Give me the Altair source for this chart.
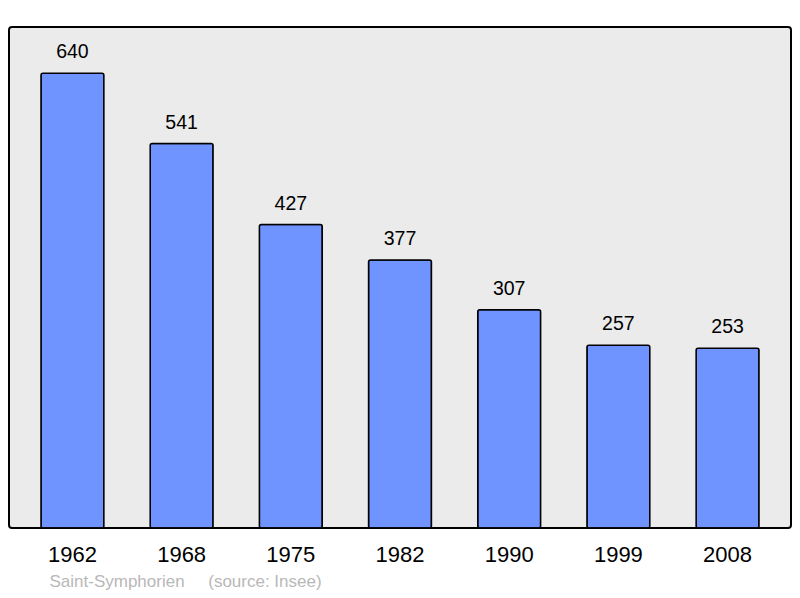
import altair as alt
import pandas as pd

years = ["1962", "1968", "1975", "1982", "1990", "1999", "2008"]
population = [640, 541, 427, 377, 307, 257, 253]
caption = "Saint-Symphorien\u00a0\u00a0\u00a0\u00a0\u00a0(source: Insee)"

df = pd.DataFrame({"year": years, "pop": population})

x = alt.X(
    "year:N",
    sort=years,
    scale=alt.Scale(paddingInner=0.424, paddingOuter=0.293),
    axis=alt.Axis(
        title=caption,
        labelAngle=0,
        labelFontSize=22,
        labelFont="Liberation Sans",
        labelColor="black",
        labelPadding=16,
        ticks=False,
        domain=False,
        grid=False,
        titleFont="Liberation Sans",
        titleFontSize=17,
        titleFontWeight="normal",
        titleColor="#b8b8b8",
        titleAlign="left",
        titleAnchor="start",
        titleBaseline="alphabetic",
        titleX=40,
        titleY=58,
    ),
)
y = alt.Y("pop:Q", scale=alt.Scale(domain=[0, 705], nice=False), axis=None)

bars = alt.Chart(df).mark_bar(
    color="#7094ff", stroke="black", strokeWidth=1.5, cornerRadius=2
).encode(x=x, y=y)

labels = alt.Chart(df).mark_text(
    baseline="alphabetic", dy=-15, fontSize=19.5, font="Liberation Sans", color="black"
).encode(x=x, y=y, text="pop:Q")

chart = (
    (bars + labels)
    .properties(
        width=782,
        height=501,
        autosize=alt.AutoSizeParams(type="none"),
        padding={"left": 1, "top": 19, "right": 1, "bottom": 62},
    )
    .configure_view(fill="#ebebeb", stroke="black", strokeWidth=2, cornerRadius=3)
)

chart.save("out.html", embed_options={"renderer": "svg", "actions": False})
